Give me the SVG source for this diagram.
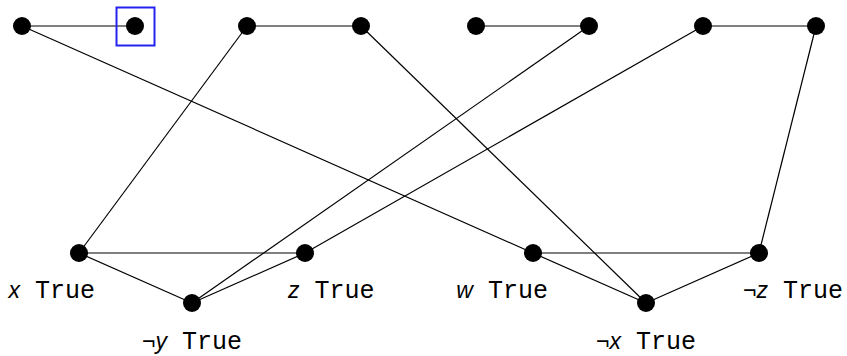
<svg xmlns="http://www.w3.org/2000/svg" width="847" height="356" viewBox="0 0 847 356">
<style>
.e{stroke:#000;stroke-width:1.2;fill:none}
.n{fill:#000}
.lbl{font-family:"Liberation Mono",monospace;font-size:25px;fill:#000}
.v{font-family:"Liberation Sans",sans-serif;font-style:italic;font-size:23px}
.neg{font-family:"Liberation Sans",sans-serif;font-size:23px}
</style>
<rect width="847" height="356" fill="#fff"/>
<g id="connectors">
<line class="e" x1="22" y1="26" x2="135" y2="26"/>
<line class="e" x1="247" y1="26" x2="361" y2="26"/>
<line class="e" x1="476" y1="26" x2="589" y2="26"/>
<line class="e" x1="703" y1="26" x2="816" y2="26"/>
<line class="e" x1="22" y1="26" x2="533" y2="253"/>
<line class="e" x1="247" y1="26" x2="79" y2="253"/>
<line class="e" x1="361" y1="26" x2="646" y2="303"/>
<line class="e" x1="589" y1="26" x2="192" y2="303"/>
<line class="e" x1="703" y1="26" x2="305" y2="253"/>
<line class="e" x1="816" y1="26" x2="759" y2="253"/>
<line class="e" x1="79" y1="253" x2="305" y2="253"/>
<line class="e" x1="79" y1="253" x2="192" y2="303"/>
<line class="e" x1="192" y1="303" x2="305" y2="253"/>
<line class="e" x1="533" y1="253" x2="759" y2="253"/>
<line class="e" x1="533" y1="253" x2="646" y2="303"/>
<line class="e" x1="646" y1="303" x2="759" y2="253"/>
</g>
<g id="t1"><circle class="n" cx="22" cy="26" r="9"/></g>
<g id="t2"><circle class="n" cx="135" cy="26" r="9"/><rect x="116.5" y="7.5" width="38" height="38" fill="none" stroke="#2323f0" stroke-width="2"/></g>
<g id="t3"><circle class="n" cx="247" cy="26" r="9"/></g>
<g id="t4"><circle class="n" cx="361" cy="26" r="9"/></g>
<g id="t5"><circle class="n" cx="476" cy="26" r="9"/></g>
<g id="t6"><circle class="n" cx="589" cy="26" r="9"/></g>
<g id="t7"><circle class="n" cx="703" cy="26" r="9"/></g>
<g id="t8"><circle class="n" cx="816" cy="26" r="9"/></g>
<g id="xTrue"><circle class="n" cx="79" cy="253" r="9"/><text class="lbl" x="95" y="298" text-anchor="end"><tspan class="v">x</tspan> True</text></g>
<g id="notyTrue"><circle class="n" cx="192" cy="303" r="9"/><text class="lbl" x="192" y="349" text-anchor="middle"><tspan class="neg">¬</tspan><tspan class="v">y</tspan> True</text></g>
<g id="zTrue"><circle class="n" cx="305" cy="253" r="9"/><text class="lbl" x="288" y="298"><tspan class="v">z</tspan> True</text></g>
<g id="wTrue"><circle class="n" cx="533" cy="253" r="9"/><text class="lbl" x="548" y="298" text-anchor="end"><tspan class="v">w</tspan> True</text></g>
<g id="notxTrue"><circle class="n" cx="646" cy="303" r="9"/><text class="lbl" x="646" y="349" text-anchor="middle"><tspan class="neg">¬</tspan><tspan class="v">x</tspan> True</text></g>
<g id="notzTrue"><circle class="n" cx="759" cy="253" r="9"/><text class="lbl" x="743" y="298"><tspan class="neg">¬</tspan><tspan class="v">z</tspan> True</text></g>
</svg>
